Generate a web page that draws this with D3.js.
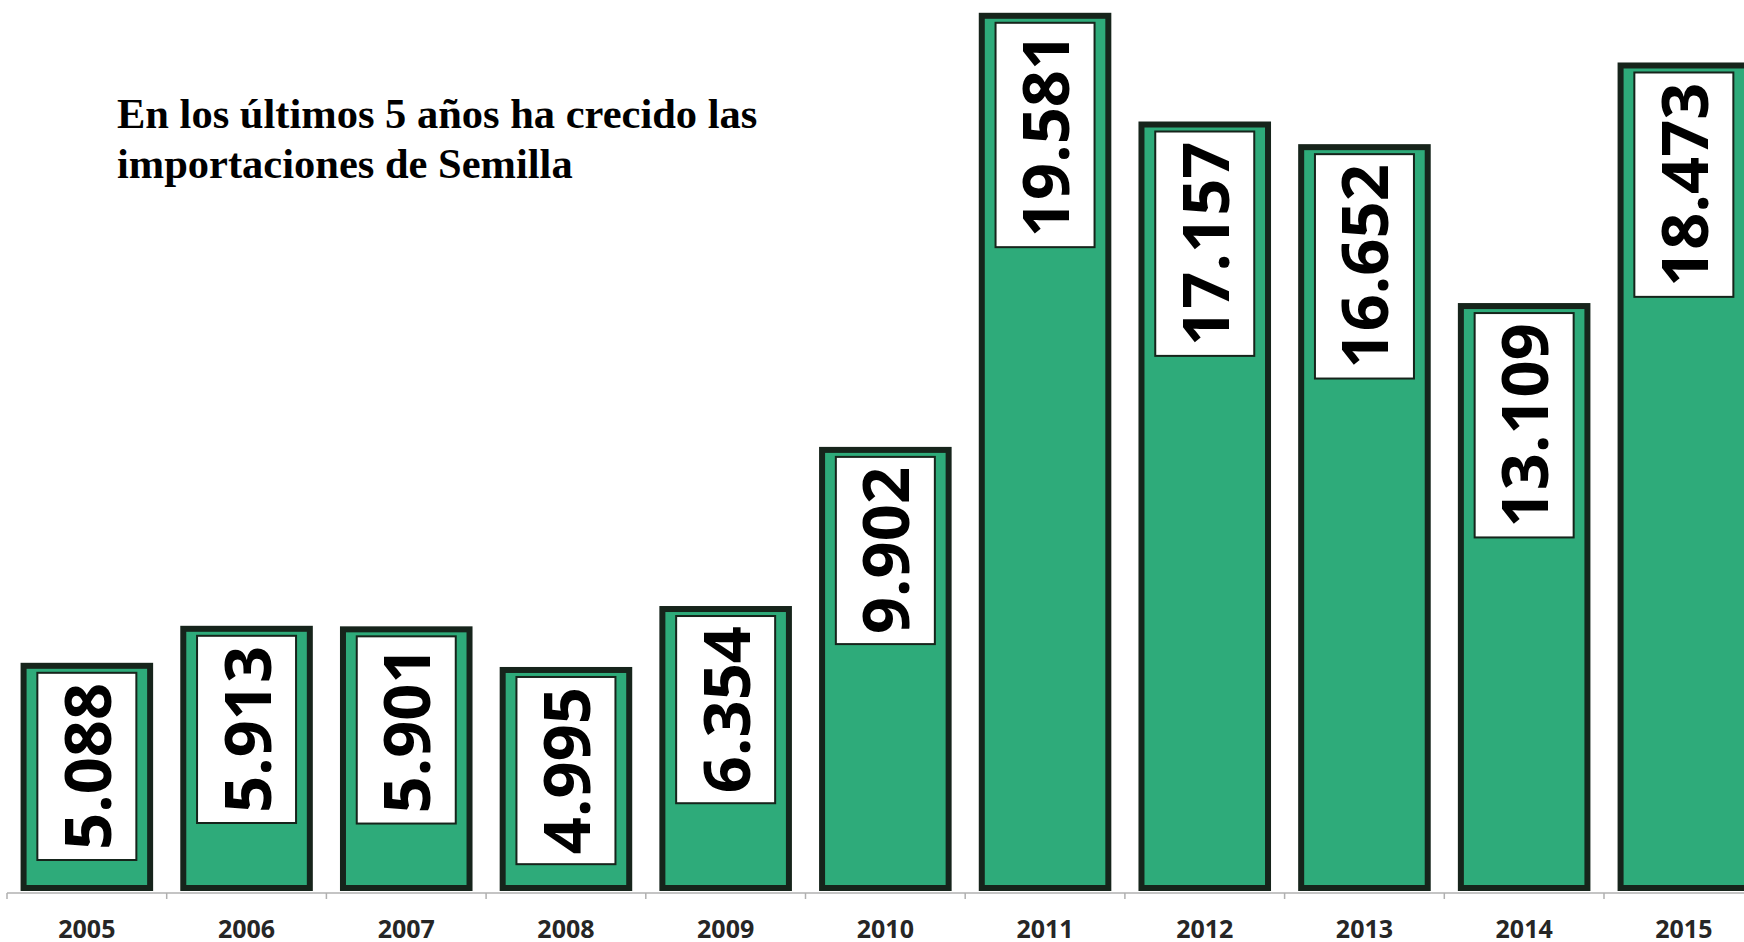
<!DOCTYPE html>
<html>
<head>
<meta charset="utf-8">
<script src="https://cdn.jsdelivr.net/npm/d3@7"></script>
<style>
  html, body { margin: 0; padding: 0; background: #fff; overflow: hidden; }
  svg { display: block; }
</style>
</head>
<body>
<svg id="chart"></svg>
<script>
const WIDTH = 1744;
const HEIGHT = 942;
const BASELINE = 891;

const GREEN = '#2eab7a';
const DARK = '#16241b';

const years = ['2005', '2006', '2007', '2008', '2009', '2010', '2011', '2012', '2013', '2014', '2015'];
const imports = [5088, 5913, 5901, 4995, 6354, 9902, 19581, 17157, 16652, 13109, 18473];
const titleLines = ['En los últimos 5 años ha crecido las', 'importaciones de Semilla'];

const data = years.map((year, i) => ({ year, value: imports[i] }));

const esFormat = d3.formatLocale({ decimal: ',', thousands: '.', grouping: [3], currency: ['', '€'] }).format(',');

const svg = d3.select('#chart')
  .attr('width', WIDTH)
  .attr('height', HEIGHT);

const x = d3.scaleBand()
  .domain(years)
  .range([7, 7 + 11 * 159.7])
  .paddingInner(0.17)
  .paddingOuter(0.085);

const y = d3.scaleLinear()
  .domain([0, 20000])
  .range([BASELINE, BASELINE - 897]);

// axis line + boundary ticks, like the category axis in the original
const axisY = 893;
const gap = x.step() * x.paddingInner() / 2;
const boundaries = years.map(d => x(d) - gap);

const axis = svg.append('g').attr('class', 'axis');
axis.append('line')
  .attr('x1', boundaries[0]).attr('x2', WIDTH)
  .attr('y1', axisY).attr('y2', axisY)
  .attr('stroke', '#b0b0b0')
  .attr('stroke-width', 1.5);
axis.selectAll('.tick')
  .data(boundaries)
  .enter()
  .append('line')
  .attr('x1', d => d).attr('x2', d => d)
  .attr('y1', axisY).attr('y2', axisY + 6)
  .attr('stroke', '#b0b0b0')
  .attr('stroke-width', 1.5);

// year labels via axisBottom, only the text is kept
const labelAxis = svg.append('g')
  .attr('transform', `translate(0,${axisY})`)
  .call(d3.axisBottom(x).tickSize(0).tickPadding(27));
labelAxis.select('.domain').remove();
labelAxis.selectAll('text')
  .attr('font-family', '"Open Sans", sans-serif')
  .attr('font-weight', 700)
  .attr('font-size', 25)
  .attr('fill', '#262626');

// bars
const bar = svg.selectAll('.bar')
  .data(data)
  .enter()
  .append('g')
  .attr('class', 'bar');

bar.append('rect')
  .attr('x', d => x(d.year) + 3)
  .attr('y', d => y(d.value) + 3)
  .attr('width', x.bandwidth() - 6)
  .attr('height', d => BASELINE - y(d.value) - 6)
  .attr('fill', GREEN)
  .attr('stroke', DARK)
  .attr('stroke-width', 6);

// value labels: white boxes with rotated text
const label = bar.append('g').attr('class', 'label');

const labelText = label.append('text')
  .attr('font-family', '"Open Sans", sans-serif')
  .attr('font-weight', 700)
  .attr('font-size', 65)
  .attr('fill', '#000')
  .attr('text-anchor', 'middle')
  .text(d => esFormat(d.value));

labelText.each(function(d) {
  const len = this.getComputedTextLength();
  const boxH = len + 22;
  const boxW = 101;
  const cx = x(d.year) + x.bandwidth() / 2;
  const top = y(d.value) + 9;
  const cy = top + boxH / 2;
  d3.select(this.parentNode).insert('rect', 'text')
    .attr('x', cx - boxW / 2 + 1)
    .attr('y', top + 1)
    .attr('width', boxW - 2)
    .attr('height', boxH - 2)
    .attr('fill', '#fff')
    .attr('stroke', DARK)
    .attr('stroke-width', 2);
  d3.select(this)
    .attr('transform', `translate(${cx + 24},${cy}) rotate(-90)`);
});

// title
svg.append('text')
  .attr('x', 117)
  .attr('y', 128)
  .attr('font-family', '"Liberation Serif", "Times New Roman", serif')
  .attr('font-weight', 700)
  .attr('font-size', 42.5)
  .attr('fill', '#000')
  .selectAll('tspan')
  .data(titleLines)
  .enter()
  .append('tspan')
  .attr('x', 117)
  .attr('dy', (d, i) => (i === 0 ? 0 : 50))
  .text(d => d);
</script>
</body>
</html>
